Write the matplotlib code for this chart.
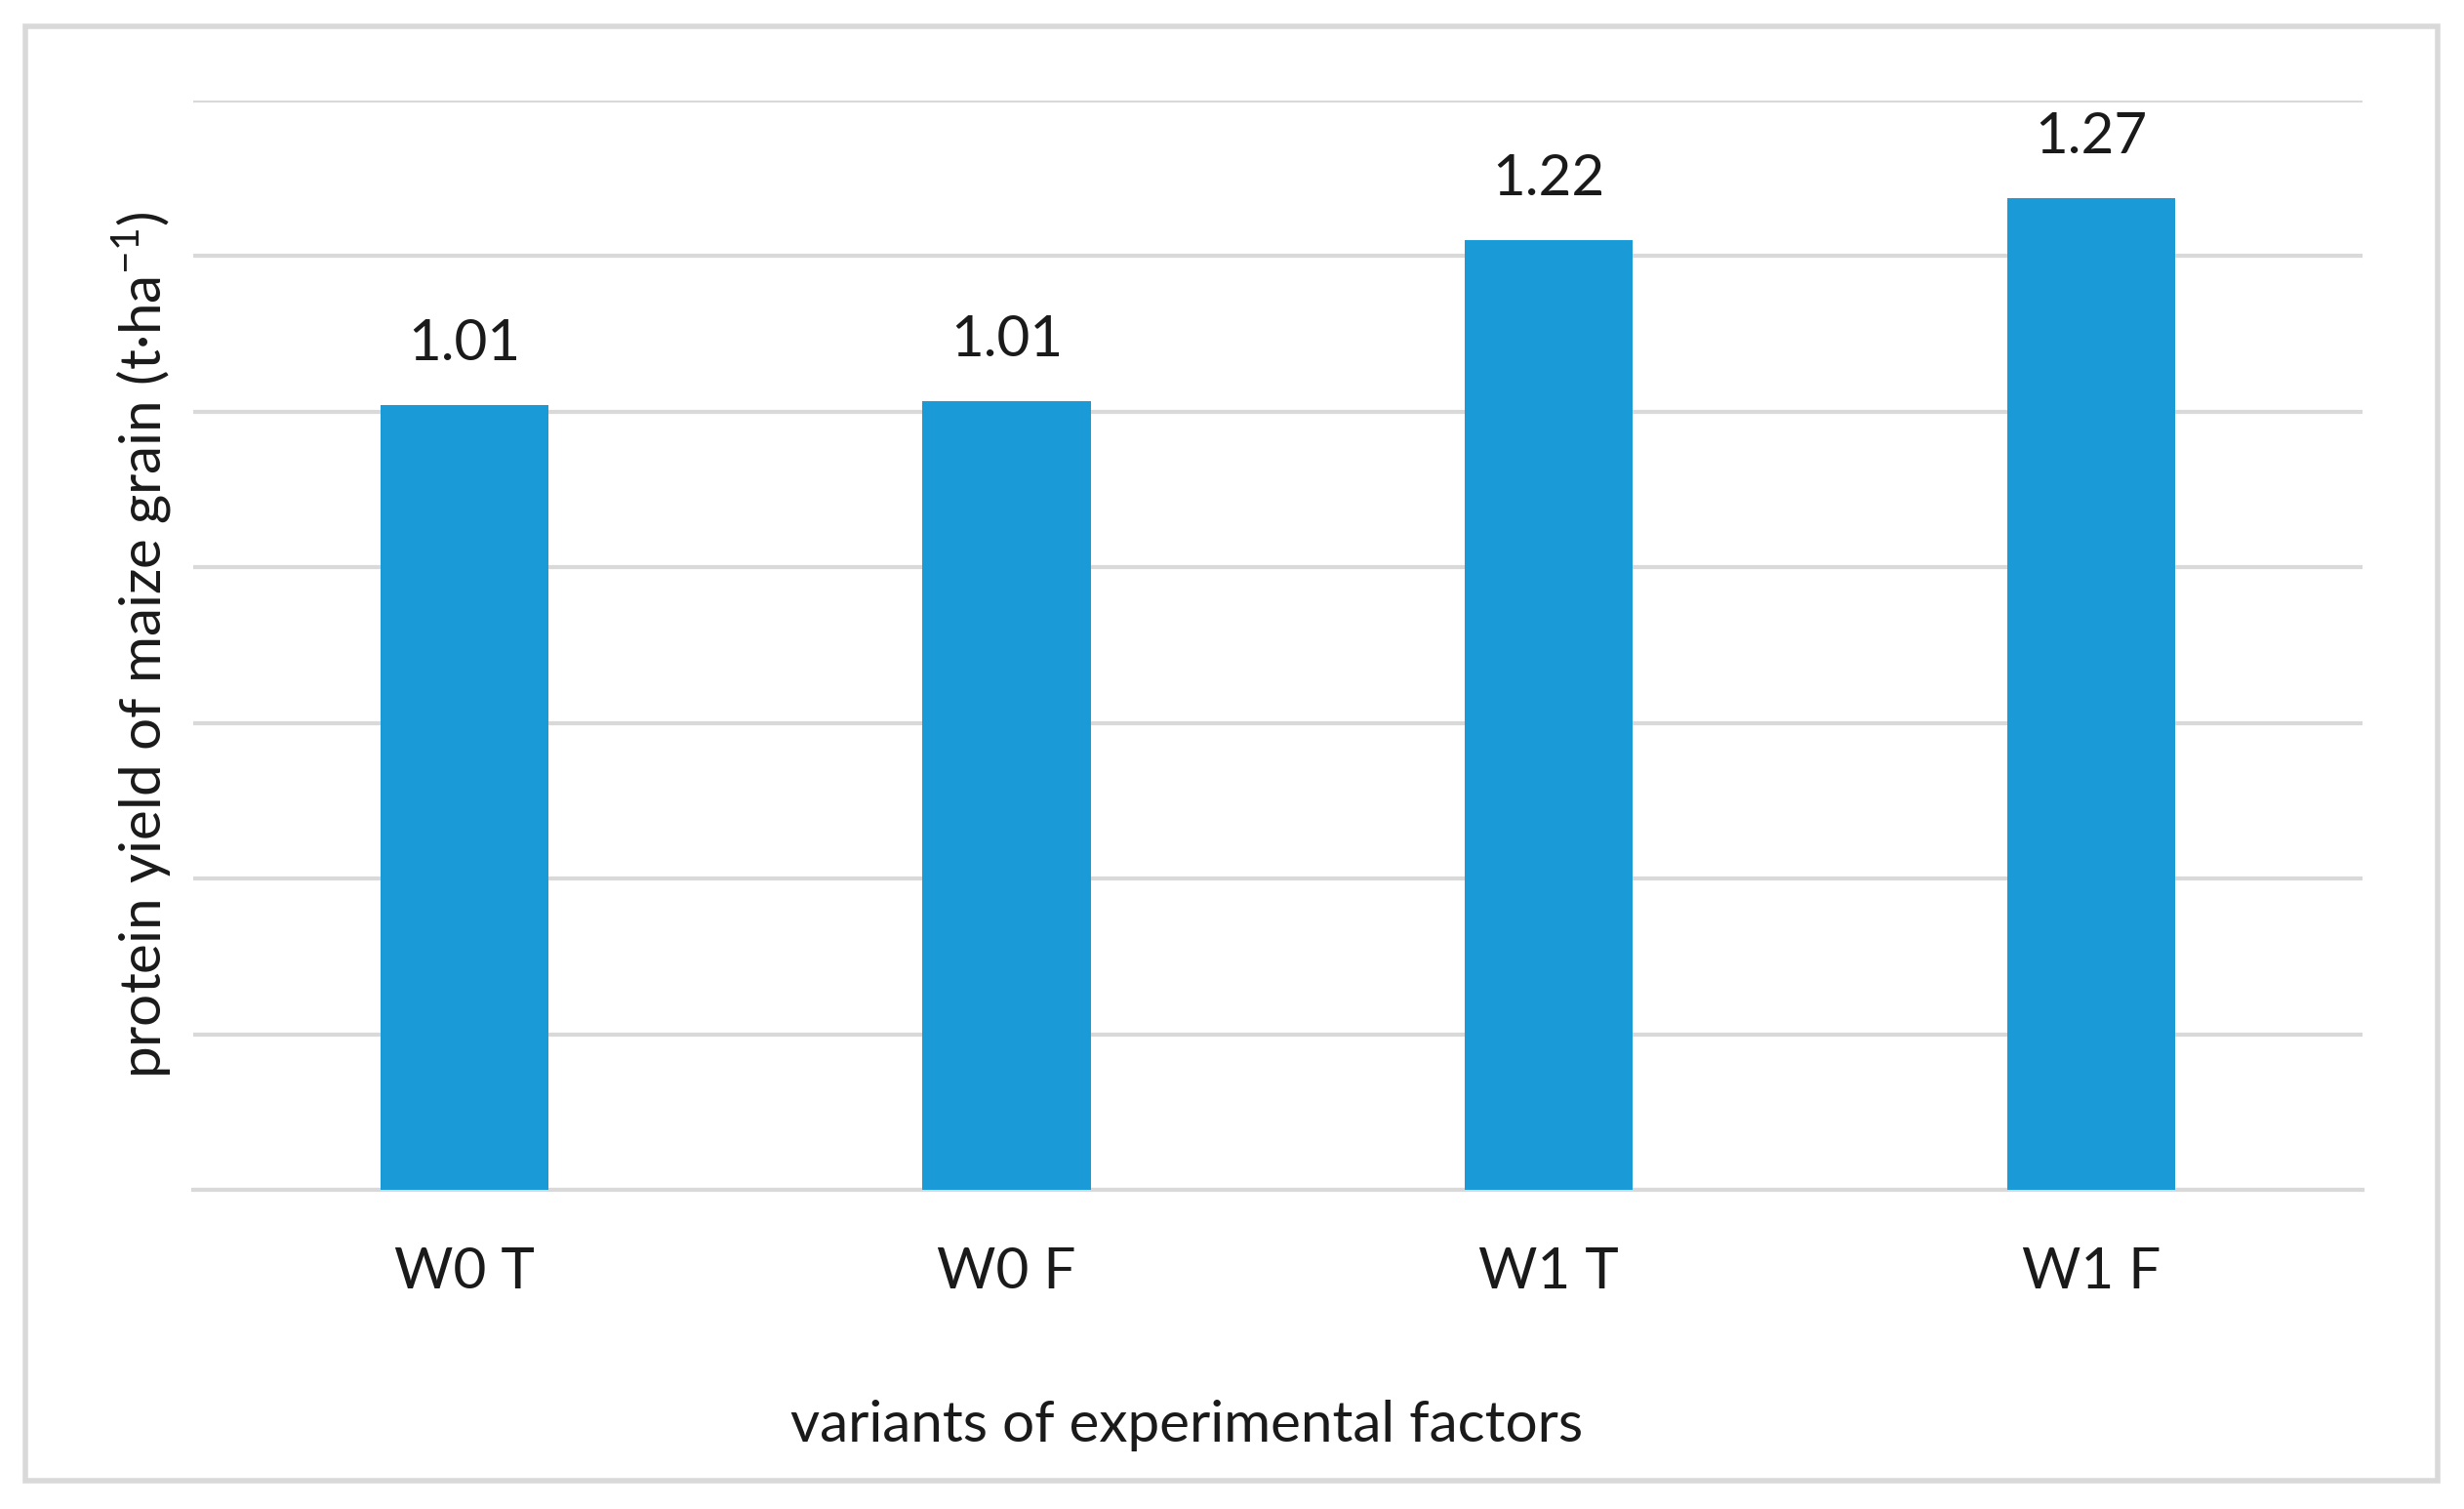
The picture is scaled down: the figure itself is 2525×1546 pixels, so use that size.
import matplotlib.pyplot as plt
from matplotlib.patches import Rectangle

# Data
variants = ["W0 T", "W0 F", "W1 T", "W1 F"]
protein_yield = [1.008, 1.013, 1.22, 1.274]

plt.rcParams['font.family'] = ['Lato', 'DejaVu Sans']
plt.rcParams['mathtext.fontset'] = 'custom'
plt.rcParams['mathtext.rm'] = 'Lato'

fig = plt.figure(figsize=(25.25, 15.46), dpi=100)
ax = fig.add_axes([0.0784, 0.2115, 0.8804, 0.7219])

bars = ax.bar(range(len(variants)), protein_yield, width=0.31, color="#1a9bd7", zorder=3)

for b, v in zip(bars, protein_yield):
    ax.annotate(f"{v:.2f}", (b.get_x() + b.get_width() / 2, v),
                xytext=(0, 36), textcoords="offset pixels",
                ha="center", va="bottom", fontsize=42, color="#1a1a1a")

ax.set_xlim(-0.5, len(variants) - 0.5)
ax.set_ylim(0, 1.4)
ax.set_yticks([0.2 * i for i in range(8)])
ax.set_yticklabels([])
ax.tick_params(axis="y", length=0)
ax.tick_params(axis="x", length=0, pad=42, labelsize=42, labelcolor="#1a1a1a")
ax.set_xticks(range(len(variants)))
ax.set_xticklabels(variants)
ax.yaxis.grid(True, color="#d9d9d9", linewidth=3, zorder=0)
for s in ["top", "right", "left"]:
    ax.spines[s].set_visible(False)
ax.spines["bottom"].set_color("#d9d9d9")
ax.spines["bottom"].set_linewidth(3)

ax.set_xlabel("variants of experimental factors", fontsize=42, color="#1a1a1a")
ax.xaxis.set_label_coords(0.458, -0.193)
ax.set_ylabel(r"protein yield of maize grain (t·ha$^{-1}$)", fontsize=42, color="#1a1a1a")
ax.yaxis.set_label_coords(-0.009, 0.5)

# light grey frame around the whole chart
fig.patches.append(Rectangle((0.0103, 0.0188), 0.979, 0.9638, transform=fig.transFigure,
                             fill=False, edgecolor="#d9d9d9", linewidth=4))

fig.savefig("out.png", dpi=100, facecolor="white")
